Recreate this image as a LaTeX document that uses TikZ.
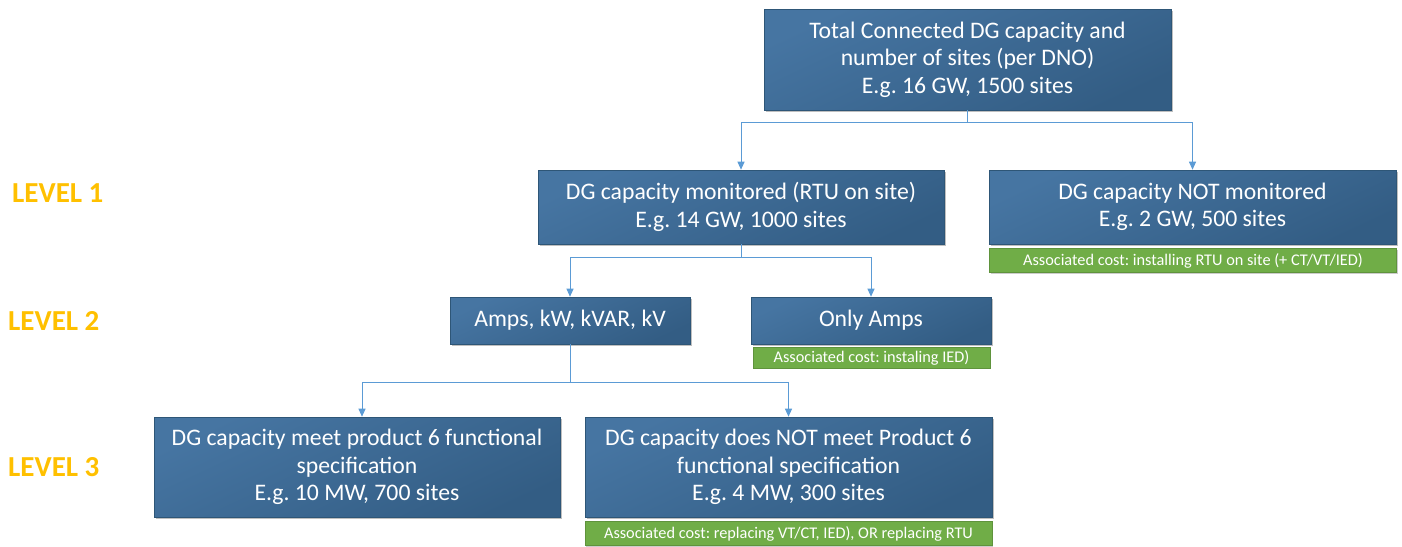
\documentclass[tikz,border=0pt]{standalone}
\usepackage{fontspec}
\setmainfont{Carlito}
\usetikzlibrary{arrows.meta,shadows,calc}
\definecolor{boxtop}{HTML}{4675A2}
\definecolor{boxbot}{HTML}{335D84}
\definecolor{boxline}{HTML}{2E5677}
\definecolor{conncol}{HTML}{5B9BD5}
\definecolor{costgreen}{HTML}{70AD47}
\definecolor{levelcol}{HTML}{FFC000}
\frenchspacing
\tikzset{
  bluebox/.style={draw=boxline, line width=0.6pt, top color=boxtop, bottom color=boxbot, shading angle=25,
    text=white, align=center, inner sep=0pt,
    font=\fontsize{23.7}{27.5}\selectfont,
    drop shadow={shadow xshift=1.5pt, shadow yshift=-1.5pt, opacity=0.25, fill=black}},
  costbox/.style={draw=costgreen!85!black, line width=0.4pt, fill=costgreen, text=white, align=center, inner sep=0pt,
    font=\fontsize{16.3}{18}\selectfont,
    drop shadow={shadow xshift=1pt, shadow yshift=-1pt, opacity=0.2, fill=black}},
  conn/.style={draw=conncol, line width=1pt, -{Triangle[length=8pt,width=7pt]}},
  connplain/.style={draw=conncol, line width=1pt},
  levellab/.style={text=levelcol, anchor=west, inner sep=0pt, font=\fontsize{29}{32}\selectfont\bfseries}
}
\begin{document}
\begin{tikzpicture}[x=1pt,y=-1pt]
\useasboundingbox (0,0) rectangle (1402,546);
% boxes
\node[bluebox, minimum width=407pt, minimum height=101pt] (top) at (967.5,59.5)
  {Total Connected DG capacity and\\number of sites (per DNO)\\E.g. 16 GW, 1500 sites};
\node[bluebox, minimum width=406pt, minimum height=74pt] (l1a) at (741,207)
  {DG capacity monitored (RTU on site)\\E.g. 14 GW, 1000 sites};
\node[bluebox, minimum width=407pt, minimum height=74pt] (l1b) at (1192.5,207)
  {DG capacity NOT monitored\\E.g. 2 GW, 500 sites};
\node[costbox, minimum width=407pt, minimum height=24pt] (g1) at (1193,260.5)
  {Associated cost: installing RTU on site (+ CT/VT/IED)};
\node[bluebox, minimum width=240pt, minimum height=47pt] (l2a) at (570,320.5)
  {Amps, kW, kVAR, kV};
\node[bluebox, minimum width=240pt, minimum height=47pt] (l2b) at (871,320.5)
  {Only Amps};
\node[costbox, minimum width=237pt, minimum height=21pt] (g2) at (871.5,357.5)
  {Associated cost: instaling IED)};
\node[bluebox, minimum width=406pt, minimum height=100pt] (l3a) at (357,467)
  {DG capacity meet product 6 functional\\specification\\E.g. 10 MW, 700 sites};
\node[bluebox, minimum width=407pt, minimum height=100pt] (l3b) at (788.5,467)
  {DG capacity does NOT meet Product 6\\functional specification\\E.g. 4 MW, 300 sites};
\node[costbox, minimum width=407pt, minimum height=24pt] (g3) at (788.5,533.5)
  {Associated cost: replacing VT/CT, IED), OR replacing RTU};
% level labels
\node[levellab] (lv1) at (12,193) {LEVEL 1};
\node[levellab] (lv2) at (8,321) {LEVEL 2};
\node[levellab] (lv3) at (8,467) {LEVEL 3};
% connectors
\coordinate (j1) at ($(top.south)+(0,12)$);
\draw[connplain] (top.south) -- (j1);
\draw[conn] (j1) -| (l1a.north);
\draw[conn] (j1) -| (l1b.north);
\coordinate (j2) at ($(l1a.south)+(0,13)$);
\draw[connplain] (l1a.south) -- (j2);
\draw[conn] (j2) -| (l2a.north);
\draw[conn] (j2) -| (l2b.north);
\coordinate (j3) at ($(l2a.south)+(0,38)$);
\draw[connplain] (l2a.south) -- (j3);
\draw[conn] (j3) -| ([xshift=5pt]l3a.north);
\draw[conn] (j3) -| (l3b.north);
\end{tikzpicture}
\end{document}
